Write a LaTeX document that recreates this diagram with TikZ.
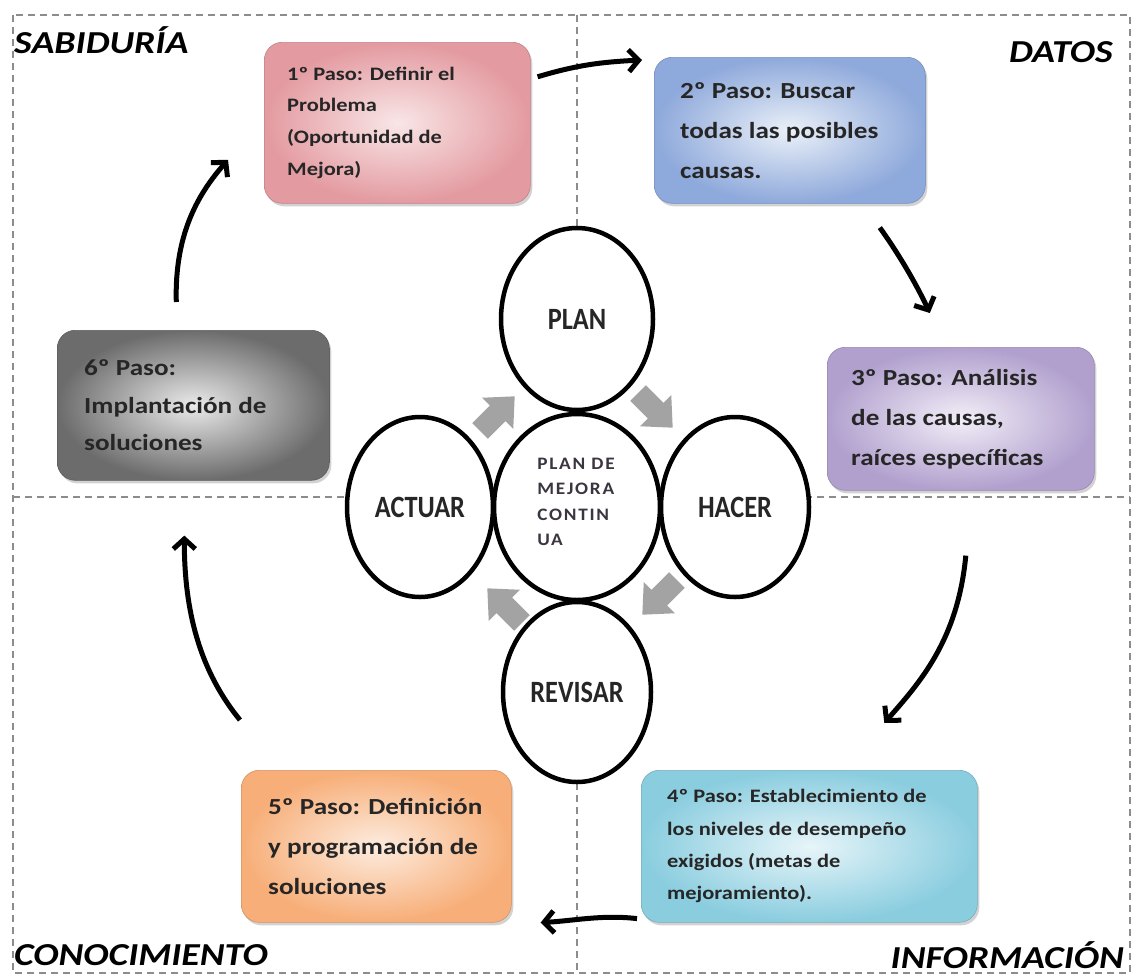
\documentclass[tikz,border=0pt]{standalone}
\usepackage{fontspec}
\setmainfont{Carlito}[FakeStretch=1.18]
\newfontfamily\circfont{Carlito}[FakeStretch=0.85]
\newfontfamily\corefont{Carlito}[FakeStretch=1.1,LetterSpace=10]
\usetikzlibrary{shapes.geometric,arrows.meta,shadows}

\definecolor{gridgray}{HTML}{8C8C8C}
\definecolor{arrowgray}{HTML}{A3A3A3}
\definecolor{inktext}{HTML}{262626}
\definecolor{coretext}{HTML}{3B3540}
\definecolor{pinkA}{HTML}{E39AA0}\definecolor{pinkB}{HTML}{F9E6E7}
\definecolor{blueA}{HTML}{8EA9DB}\definecolor{blueB}{HTML}{EAF0F8}
\definecolor{lilaA}{HTML}{B1A0CE}\definecolor{lilaB}{HTML}{F2EEF7}
\definecolor{cyanA}{HTML}{8ACDDF}\definecolor{cyanB}{HTML}{E7F5F9}
\definecolor{peachA}{HTML}{F7AE78}\definecolor{peachB}{HTML}{FDECDF}
\definecolor{greyA}{HTML}{6C6C6C}\definecolor{greyB}{HTML}{EAEAEA}

% chunky grey arrow: centre, direction angle
\newcommand\turnarrow[2]{%
  \fill[arrowgray, shift={#1}, rotate=#2]
    (-24,-11) -- (1,-11) -- (1,-22) -- (25,0) -- (1,22) -- (1,11) -- (-24,11) -- cycle;}

\begin{document}
\begin{tikzpicture}[x=1pt,y=-1pt,
  frame/.style={draw=gridgray, line width=2pt, dash pattern=on 7pt off 5pt},
  stepbox/.style={rectangle, rounded corners=18pt, anchor=north west, inner sep=0pt,
    draw=#1A!85!black, line width=0.6pt, inner color=#1B, outer color=#1A,
    drop shadow={shadow xshift=2pt, shadow yshift=-3pt, opacity=0.35}},
  steptext/.style={anchor=west, align=left, inner sep=0pt, text=inktext},
  big/.style={font=\bfseries\fontsize{23}{40}\selectfont},
  small/.style={font=\bfseries\fontsize{19}{31.8}\selectfont},
  cyc/.style={ellipse, draw=black, line width=4.5pt, fill=white, inner sep=0pt,
    text=inktext, font=\circfont\fontsize{31}{31}\selectfont\bfseries},
  flow/.style={line width=5pt, -{Straight Barb[length=10pt,width=22pt]}},
  corner/.style={inner sep=0pt, text=black,
    font=\fontsize{32}{32}\selectfont\bfseries\itshape}]

% canvas
\fill[white] (0,0) rectangle (1138,978);
\useasboundingbox (0,0) rectangle (1138,978);

% quadrant grid
\draw[frame] (13,15) rectangle (1130,973);
\draw[frame] (577,15) -- (577,973);
\draw[frame] (13,497) -- (1130,497);

% step boxes
\node[stepbox=pink,  minimum width=266pt, minimum height=161pt] (b1) at (264,42) {};
\node[stepbox=blue,  minimum width=271pt, minimum height=146pt] (b2) at (654,57) {};
\node[stepbox=lila,  minimum width=267pt, minimum height=143pt] (b3) at (827,347) {};
\node[stepbox=cyan,  minimum width=336pt, minimum height=152pt] (b4) at (641,770) {};
\node[stepbox=peach, minimum width=270pt, minimum height=152pt] (b5) at (241,770) {};
\node[stepbox=grey,  minimum width=272pt, minimum height=150pt] (b6) at (57,330) {};

\node[steptext, small] (t1) at ([xshift=23pt]b1.west)
  {1º Paso: Definir el\\Problema\\(Oportunidad de\\Mejora)};
\node[steptext, big] (t2) at ([xshift=26pt]b2.west)
  {2º Paso: Buscar\\todas las posibles\\causas.};
\node[steptext, big] (t3) at ([xshift=24pt]b3.west)
  {3º Paso: Análisis\\de las causas,\\raíces específicas};
\node[steptext, font=\bfseries\fontsize{19}{32.3}\selectfont] (t4) at ([xshift=26pt]b4.west)
  {4º Paso: Establecimiento de\\los niveles de desempeño\\exigidos (metas de\\mejoramiento).};
\node[steptext, big] (t5) at ([xshift=27pt]b5.west)
  {5º Paso: Definición\\y programación de\\soluciones};
\node[steptext, font=\bfseries\fontsize{23}{37.5}\selectfont] (t6) at ([xshift=27pt]b6.west)
  {6º Paso:\\Implantación de\\soluciones};

% PDCA wheel
\node[cyc, minimum width=152pt, minimum height=182pt] (plan)    at (577,319) {PLAN};
\node[cyc, minimum width=146pt, minimum height=180pt] (actuar)  at (420,507) {ACTUAR};
\node[cyc, minimum width=148pt, minimum height=180pt] (hacer)   at (735,507) {HACER};
\node[cyc, minimum width=148pt, minimum height=180pt] (revisar) at (577,692) {REVISAR};
\node[cyc, minimum width=166pt, minimum height=186pt] (core)    at (577,507) {};
\node[align=left, inner sep=0pt, text=coretext,
      font=\corefont\bfseries\fontsize{17.5}{25.5}\selectfont] (coretxt) at (576,502)
  {PLAN DE\\MEJORA\\CONTIN\\UA};

% grey turning arrows between the phases
\turnarrow{(497,414)}{45}
\turnarrow{(655,410)}{-45}
\turnarrow{(660,597)}{-135}
\turnarrow{(505,606)}{135}

% cycle of steps
\draw[flow] ([shift={(7,-46)}]b1.east) .. controls +(40,-12) and +(-40,2) .. ([shift={(-12,3)}]b2.north west);
\draw[flow] ([shift={(90,24)}]b2.south) .. controls +(18,25) and +(-14,-30) .. ([shift={(-31,-34)}]b3.north);
\draw[flow] ([shift={(5,65)}]b3.south) .. controls +(-8,85) and +(35,-40) .. ([shift={(75,-47)}]b4.north);
\draw[flow] ([shift={(-4,-4)}]b4.south west) .. controls +(-35,-4) and +(35,-2) .. ([shift={(29,0)}]b5.south east);
\draw[flow] ([shift={(-1,-50)}]b5.north west) .. controls +(-45,-55) and +(0,65) .. ([shift={(-9,55)}]b6.south);
\draw[flow] ([shift={(-17,-28)}]b6.north) .. controls +(-2,-70) and +(-28,32) .. ([shift={(-36,37)}]b1.west);

% quadrant titles
\node[corner, anchor=base west] (sab) at (14,53)   {SABIDURÍA};
\node[corner, anchor=base east] (dat) at (1113,62) {DATOS};
\node[corner, anchor=base west] (con) at (14,965)  {CONOCIMIENTO};
\node[corner, anchor=base east] (inf) at (1124,968) {INFORMACIÓN};
\end{tikzpicture}
\end{document}
